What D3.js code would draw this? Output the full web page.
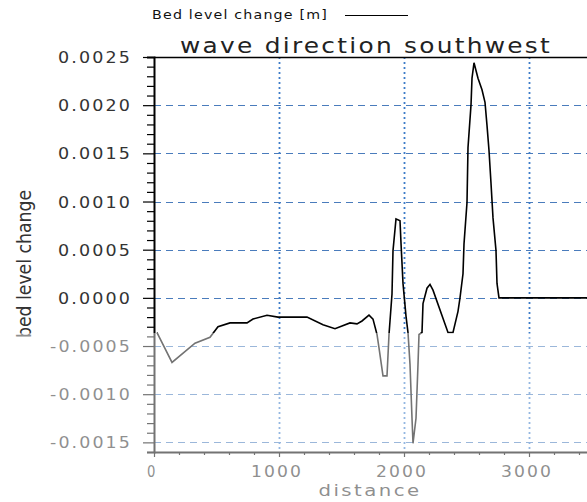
<!DOCTYPE html>
<html>
<head>
<meta charset="utf-8">
<script src="https://cdn.jsdelivr.net/npm/d3@7"></script>
<style>
  body { margin: 0; background: #fff; }
  svg text { font-family: "DejaVu Sans", Verdana, sans-serif; }
</style>
</head>
<body>
<div id="chart"></div>
<script>
// bed level change along the profile
const distance = [24, 144, 328, 448, 512, 608, 744, 792, 904, 992, 1224, 1352, 1448, 1568, 1624, 1664, 1720, 1752,
  1784, 1800, 1832, 1864, 1880, 1904, 1912, 1936, 1968, 1976, 1992, 2016, 2032, 2048, 2064, 2072, 2096, 2112,
  2120, 2144, 2152, 2184, 2208, 2232, 2352, 2392, 2432, 2448, 2472, 2480, 2504, 2512, 2536, 2544, 2560, 2576,
  2592, 2624, 2648, 2664, 2680, 2696, 2712, 2736, 2744, 2760, 3500];
const bedChange = [-0.00036, -0.00067, -0.00047, -0.00041, -0.00030, -0.00026, -0.00026, -0.00022, -0.00018, -0.00020,
  -0.00020, -0.00028, -0.00032, -0.00026, -0.00027, -0.00024, -0.00018, -0.00022, -0.00038, -0.00052, -0.00081,
  -0.00081, -0.00038, 0.00004, 0.00049, 0.00082, 0.00080, 0.00057, 0.00015, -0.00019, -0.00036, -0.00069, -0.00125,
  -0.00151, -0.00125, -0.00069, -0.00038, -0.00036, -0.00006, 0.00010, 0.00014, 0.00008, -0.00036, -0.00036,
  -0.00014, 0.00000, 0.00025, 0.00056, 0.00099, 0.00156, 0.00200, 0.00228, 0.00244, 0.00236, 0.00228, 0.00216,
  0.00203, 0.00179, 0.00153, 0.00119, 0.00083, 0.00049, 0.00015, 0.00000, 0.00000];
const xTicks = [0, 1000, 2000, 3000];
const yTicks = [-0.0015, -0.0010, -0.0005, 0.0000, 0.0005, 0.0010, 0.0015, 0.0020, 0.0025];
const titleText = "wave direction southwest";
const legendText = "Bed level change [m]";
const xLabel = "distance";
const yLabel = "bed level change";

const width = 587, height = 502;
const plot = { left: 154, top: 57, right: 590, bottom: 452 };

const svg = d3.select("#chart").append("svg")
    .attr("width", width)
    .attr("height", height);

const x = d3.scaleLinear().domain([0, 3488]).range([plot.left, plot.right]);
const y = d3.scaleLinear().domain([-0.0016, 0.0025]).range([plot.bottom, plot.top]);

// grid
svg.append("g").selectAll("line")
    .data(yTicks.filter(d => d < 0.0025))
    .join("line")
    .attr("x1", plot.left).attr("x2", width)
    .attr("y1", d => Math.round(y(d)) + 0.5).attr("y2", d => Math.round(y(d)) + 0.5)
    .attr("stroke", "#4a7cbc")
    .attr("stroke-width", 1.1)
    .attr("stroke-dasharray", "7,5");

svg.append("g").selectAll("line")
    .data(xTicks.filter(d => d > 0))
    .join("line")
    .attr("x1", d => Math.round(x(d)) + 0.5).attr("x2", d => Math.round(x(d)) + 0.5)
    .attr("y1", plot.top).attr("y2", plot.bottom)
    .attr("stroke", "#3d7cc8")
    .attr("stroke-width", 1.8)
    .attr("stroke-dasharray", "2,3");

// top frame
svg.append("line")
    .attr("x1", plot.left).attr("x2", width)
    .attr("y1", plot.top + 0.5).attr("y2", plot.top + 0.5)
    .attr("stroke", "#000").attr("stroke-width", 1.3);

// data line
const line = d3.line().x(d => x(d[0])).y(d => y(d[1]));
svg.append("path")
    .datum(d3.zip(distance, bedChange))
    .attr("d", line)
    .attr("fill", "none")
    .attr("stroke", "#000")
    .attr("stroke-width", 1.6);

// axes
const yAxis = d3.axisLeft(y)
    .tickValues(d3.range(-16, 26).map(i => i / 10000))
    .tickSize(7)
    .tickFormat("");
const gy = svg.append("g")
    .attr("transform", `translate(${plot.left},0)`)
    .call(yAxis);
gy.selectAll(".tick line").attr("stroke", "#000").attr("stroke-width", 1.2)
    .attr("x2", d => Math.round(d * 10000) % 5 === 0 ? -11 : -7);
gy.select(".domain").attr("stroke", "#000").attr("stroke-width", 2);

const xAxis = d3.axisBottom(x)
    .tickValues(d3.range(0, 3600, 200))
    .tickSize(3)
    .tickSizeOuter(0)
    .tickFormat("");
const gx = svg.append("g")
    .attr("transform", `translate(0,${plot.bottom})`)
    .call(xAxis);
gx.selectAll(".tick line").attr("stroke", "#000").attr("stroke-width", 1.2)
    .attr("y2", d => d % 1000 === 0 ? 5 : 3);
gx.select(".domain").attr("stroke", "#000").attr("stroke-width", 2);

// tick labels, wide spaced as in the picture
function labelWidth(s) {
    let w = 0;
    for (const c of s) w += c === "." ? 7 : (c === "-" ? 8 : 14);
    return w;
}
const fmt = d => d3.format(".4f")(d).replace("−", "-");

svg.append("g").selectAll("text")
    .data(yTicks)
    .join("text")
    .attr("x", 132)
    .attr("y", d => y(d) + 6)
    .attr("text-anchor", "end")
    .attr("font-size", 16.5)
    .attr("letter-spacing", 2)
    .attr("fill", "#333")
    .attr("textLength", d => labelWidth(fmt(d)) - 3)
    .attr("lengthAdjust", "spacingAndGlyphs")
    .text(fmt);

svg.append("g").selectAll("text")
    .data(xTicks)
    .join("text")
    .attr("x", d => x(d) - 2)
    .attr("y", 477)
    .attr("text-anchor", "middle")
    .attr("font-size", 16.5)
    .attr("letter-spacing", 2)
    .attr("fill", "#333")
    .attr("textLength", d => labelWidth(String(d)) - 4)
    .attr("lengthAdjust", "spacingAndGlyphs")
    .text(d => d);

svg.append("text")
    .attr("x", 370).attr("y", 496)
    .attr("text-anchor", "middle")
    .attr("font-size", 16)
    .attr("letter-spacing", 2)
    .attr("fill", "#333")
    .attr("textLength", 103)
    .attr("lengthAdjust", "spacingAndGlyphs")
    .text(xLabel);

svg.append("text")
    .attr("transform", "translate(31,264) rotate(-90)")
    .attr("text-anchor", "middle")
    .attr("font-family", "Liberation Sans Narrow, Liberation Sans, Arial, sans-serif")
    .attr("font-size", 20)
    .attr("fill", "#333")
    .attr("textLength", 148)
    .attr("lengthAdjust", "spacingAndGlyphs")
    .text(yLabel);

// title + legend
svg.append("text")
    .attr("x", 180).attr("y", 53)
    .attr("font-size", 22)
    .attr("letter-spacing", 2)
    .attr("fill", "#222")
    .attr("textLength", 372)
    .attr("lengthAdjust", "spacingAndGlyphs")
    .text(titleText);

svg.append("text")
    .attr("x", 152).attr("y", 19)
    .attr("font-size", 12)
    .attr("letter-spacing", 1)
    .attr("fill", "#111")
    .attr("textLength", 176)
    .attr("lengthAdjust", "spacingAndGlyphs")
    .text(legendText);

svg.append("line")
    .attr("x1", 345).attr("x2", 408)
    .attr("y1", 15.5).attr("y2", 15.5)
    .attr("stroke", "#000").attr("stroke-width", 1.2);

// the lower part of the picture is washed out
svg.append("rect")
    .attr("x", 0).attr("y", 333)
    .attr("width", width).attr("height", height - 333)
    .attr("fill", "#fff")
    .attr("opacity", 0.45);
</script>
</body>
</html>
